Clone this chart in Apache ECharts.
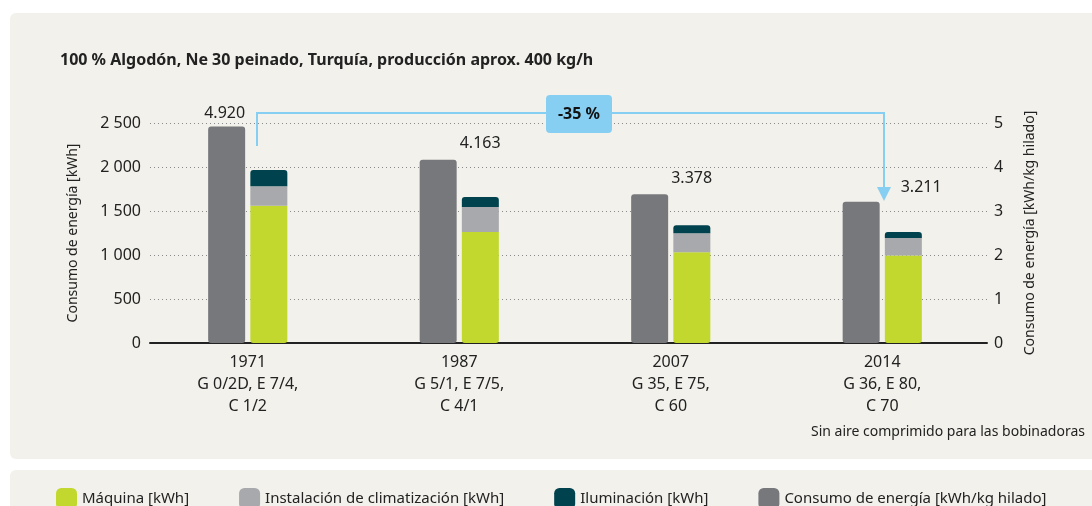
<!DOCTYPE html>
<html>
<head>
<meta charset="utf-8">
<script src="https://cdn.jsdelivr.net/npm/echarts@6/dist/echarts.min.js"></script>
<style>
  html, body { margin: 0; padding: 0; background: #fff; }
  #chart { width: 1092px; height: 506px; }
</style>
</head>
<body>
<div id="chart"></div>
<script>
// categorias (año + maquinaria)
const categories = [
  '1971\nG 0/2D, E 7/4,\nC 1/2',
  '1987\nG 5/1, E 7/5,\nC 4/1',
  '2007\nG 35, E 75,\nC 60',
  '2014\nG 36, E 80,\nC 70'
]
// kWh, barras apiladas
const maquina = [1560, 1260, 1030, 995]
const climatizacion = [220, 285, 217, 197]
const iluminacion = [185, 115, 91, 69]
// kWh/kg hilado, eje derecho
const consumo = [4.920, 4.163, 3.378, 3.211]
// ticks
const leftTicks = [0, 500, 1000, 1500, 2000, 2500]
const rightTicks = [0, 1, 2, 3, 4, 5]

const FONT = '"Noto Sans", sans-serif'
const TXT = '#222'

const chart = echarts.init(document.getElementById('chart'))

// desplazamiento de las etiquetas sobre las barras grises
const labelOffsets = [[-2, 0], [42, -3], [42, -3], [60, -1]]

const option = {
  backgroundColor: '#fff',
  textStyle: { fontFamily: FONT },
  animation: false,
  legend: {
    left: 51,
    top: 483,
    itemWidth: 21,
    itemHeight: 21,
    itemGap: 50,
    icon: 'roundRect',
    textStyle: { fontSize: 15, color: TXT, fontFamily: FONT },
    data: ['Máquina [kWh]', 'Instalación de climatización [kWh]', 'Iluminación [kWh]', 'Consumo de energía [kWh/kg hilado]']
  },
  grid: [
    // barras
    { left: 142, right: 104, top: 123, bottom: 163 },
    // ejes visibles
    { left: 150, right: 105, top: 123, bottom: 163 }
  ],
  xAxis: [
    {
      type: 'category', gridIndex: 0, data: categories,
      axisLine: { show: false }, axisTick: { show: false },
      axisLabel: { color: TXT, fontSize: 16, lineHeight: 22, margin: 8, fontFamily: FONT }
    },
    {
      type: 'category', gridIndex: 1, data: categories,
      axisLine: { lineStyle: { color: '#222', width: 2 } },
      axisTick: { show: false }, axisLabel: { show: false }
    }
  ],
  yAxis: [
    { type: 'value', gridIndex: 0, min: leftTicks[0], max: leftTicks[leftTicks.length - 1], show: false },
    { type: 'value', gridIndex: 0, min: rightTicks[0], max: rightTicks[rightTicks.length - 1], show: false },
    {
      type: 'value', gridIndex: 1, position: 'left',
      min: leftTicks[0], max: leftTicks[leftTicks.length - 1], interval: 500,
      name: 'Consumo de energía [kWh]', nameLocation: 'middle', nameGap: 70,
      nameTextStyle: { fontSize: 14, color: TXT, fontFamily: FONT },
      axisLine: { show: false }, axisTick: { show: false },
      axisLabel: {
        color: TXT, fontSize: 16, margin: 9, fontFamily: FONT,
        formatter: v => v >= 1000 ? String(v).replace(/(\d)(\d{3})$/, '$1 $2') : String(v)
      },
      splitLine: { lineStyle: { color: '#8a8a8a', type: [1, 3], width: 1 } }
    },
    {
      type: 'value', gridIndex: 1, position: 'right',
      min: rightTicks[0], max: rightTicks[rightTicks.length - 1], interval: 1,
      name: 'Consumo de energía [kWh/kg hilado]', nameLocation: 'middle', nameGap: 36,
      nameTextStyle: { fontSize: 14, color: TXT, fontFamily: FONT },
      axisLine: { show: false }, axisTick: { show: false },
      axisLabel: { color: TXT, fontSize: 16, margin: 7, fontFamily: FONT },
      splitLine: { show: false }
    }
  ],
  series: [
    {
      name: 'Consumo de energía [kWh/kg hilado]', type: 'bar',
      xAxisIndex: 0, yAxisIndex: 1,
      barWidth: 37, barGap: '14%',
      itemStyle: { color: '#77787c', borderRadius: 3 },
      data: consumo.map((v, i) => ({
        value: v,
        label: { offset: labelOffsets[i] }
      })),
      label: {
        show: true, position: 'top', distance: 5,
        color: TXT, fontSize: 16, fontFamily: FONT,
        formatter: p => p.value.toFixed(3)
      }
    },
    {
      name: 'Máquina [kWh]', type: 'bar', stack: 'kwh',
      xAxisIndex: 0, yAxisIndex: 0, barWidth: 37,
      itemStyle: { color: '#c2d82f', borderRadius: [0, 0, 3, 3] },
      data: maquina
    },
    {
      name: 'Instalación de climatización [kWh]', type: 'bar', stack: 'kwh',
      xAxisIndex: 0, yAxisIndex: 0, barWidth: 37,
      itemStyle: { color: '#a8a9ad' },
      data: climatizacion
    },
    {
      name: 'Iluminación [kWh]', type: 'bar', stack: 'kwh',
      xAxisIndex: 0, yAxisIndex: 0, barWidth: 37,
      itemStyle: { color: '#00434f', borderRadius: [3, 3, 0, 0] },
      data: iluminacion
    }
  ],
  graphic: [
    // paneles de fondo
    { type: 'rect', z: -10, silent: true, shape: { x: 10, y: 13, width: 1100, height: 446, r: 6 }, style: { fill: '#f2f1eb' } },
    { type: 'rect', z: -10, silent: true, shape: { x: 10, y: 470, width: 1100, height: 60, r: 6 }, style: { fill: '#f2f1eb' } },
    // titulo
    {
      type: 'text', left: 60, top: 52,
      style: { text: '100 % Algodón, Ne 30 peinado, Turquía, producción aprox. 400 kg/h', font: 'bold 16px ' + FONT, fill: TXT }
    },
    // flecha -35 %
    {
      type: 'polyline', z: 10,
      shape: { points: [[257, 146], [257, 113], [884, 113], [884, 190]] },
      style: { stroke: '#86cff2', lineWidth: 2, fill: null }
    },
    {
      type: 'polygon', z: 10,
      shape: { points: [[877, 187], [891, 187], [884, 201]] },
      style: { fill: '#86cff2' }
    },
    {
      type: 'rect', z: 11,
      shape: { x: 546, y: 95, width: 66, height: 38, r: 4 },
      style: { fill: '#86cff2' }
    },
    {
      type: 'text', z: 12, x: 579, y: 114,
      style: { text: '-35 %', font: 'bold 16px ' + FONT, fill: '#111', align: 'center', verticalAlign: 'middle' }
    },
    // nota
    {
      type: 'text', right: 7, top: 425,
      style: { text: 'Sin aire comprimido para las bobinadoras', font: '14px ' + FONT, fill: TXT }
    }
  ]
}

chart.setOption(option)
</script>
</body>
</html>
